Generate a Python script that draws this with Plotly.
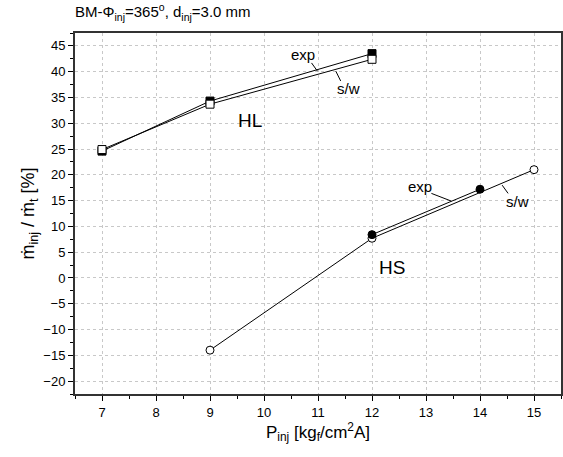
import plotly.graph_objects as go

# HL series
hl_x = [7, 9, 12]
hl_exp = [24.6, 34.3, 43.5]
hl_sw = [24.9, 33.7, 42.4]
# HS series
hs_exp_x = [12, 14]
hs_exp = [8.4, 17.2]
hs_sw_x = [9, 12, 15]
hs_sw = [-14.0, 7.7, 21.0]

x_ticks = [7, 8, 9, 10, 11, 12, 13, 14, 15]
y_ticks = list(range(-20, 50, 5))

fig = go.Figure()
fig.add_trace(go.Scatter(x=hl_x, y=hl_exp, mode="lines+markers", name="HL exp",
                         line=dict(color="black", width=1),
                         marker=dict(symbol="square", size=8, color="black",
                                     line=dict(color="black", width=1))))
fig.add_trace(go.Scatter(x=hl_x, y=hl_sw, mode="lines+markers", name="HL s/w",
                         line=dict(color="black", width=1),
                         marker=dict(symbol="square", size=8, color="white",
                                     line=dict(color="black", width=1))))
fig.add_trace(go.Scatter(x=hs_sw_x, y=hs_sw, mode="lines+markers", name="HS s/w",
                         line=dict(color="black", width=1),
                         marker=dict(symbol="circle", size=8, color="white",
                                     line=dict(color="black", width=1))))
fig.add_trace(go.Scatter(x=hs_exp_x, y=hs_exp, mode="lines+markers", name="HS exp",
                         line=dict(color="black", width=1),
                         marker=dict(symbol="circle", size=8, color="black",
                                     line=dict(color="black", width=1))))

font = "Liberation Sans, Arial, sans-serif"

# Labels with leader lines
labels = [
    (10.72, 43.3, "exp", 15), (11.56, 36.8, "s/w", 15), (9.74, 30.6, "HL", 19),
    (12.89, 17.7, "exp", 15), (14.70, 14.9, "s/w", 15), (12.37, 2.1, "HS", 19),
]
for x, y, t, s in labels:
    fig.add_annotation(x=x, y=y, text=t, showarrow=False,
                       font=dict(family=font, size=s, color="black"))

leaders = [
    (10.88, 41.7, 10.99, 40.1),
    (11.33, 40.1, 11.42, 38.2),
    (13.10, 16.4, 13.47, 14.9),
    (14.41, 18.0, 14.52, 16.4),
]
for x0, y0, x1, y1 in leaders:
    fig.add_shape(type="line", x0=x0, y0=y0, x1=x1, y1=y1, xref="x", yref="y",
                  line=dict(color="black", width=1))

fig.update_layout(
    width=563, height=457,
    margin=dict(l=75, r=0, t=33, b=63),
    paper_bgcolor="white", plot_bgcolor="white",
    showlegend=False,
    font=dict(family=font, color="black", size=13),
    title=dict(text="BM-Φ<sub>inj</sub>=365<sup>o</sup>, d<sub>inj</sub>=3.0 mm",
               x=75 / 563, xanchor="left", y=0.985, yanchor="top",
               font=dict(family=font, size=15, color="black")),
)
fig.update_xaxes(range=[6.5, 15.5], tickvals=x_ticks, ticks="outside", ticklen=5,
                 tickwidth=1, tickcolor="black",
                 minor=dict(dtick=0.5, tick0=6.5, ticks="outside", ticklen=3, tickcolor="black"),
                 showline=True, linecolor="#333333", linewidth=2, mirror=True,
                 showgrid=True, gridcolor="#c8c8c8", griddash="dot", gridwidth=1,
                 zeroline=False, tickfont=dict(size=13),
                 title=dict(text="P<sub>inj</sub> [kg<sub>f</sub>/cm<sup>2</sup>A]",
                            font=dict(size=17), standoff=6))
fig.update_yaxes(range=[-22.5, 47.5], tickvals=y_ticks, ticks="outside", ticklen=5,
                 tickwidth=1, tickcolor="black",
                 minor=dict(dtick=2.5, tick0=-22.5, ticks="outside", ticklen=3, tickcolor="black"),
                 showline=True, linecolor="#333333", linewidth=2, mirror=True,
                 showgrid=True, gridcolor="#c8c8c8", griddash="dot", gridwidth=1,
                 zeroline=False, tickfont=dict(size=13),
                 title=dict(text="ṁ<sub>inj</sub> / ṁ<sub>t</sub> [%]",
                            font=dict(size=18), standoff=4))

fig.write_html("out.html")
